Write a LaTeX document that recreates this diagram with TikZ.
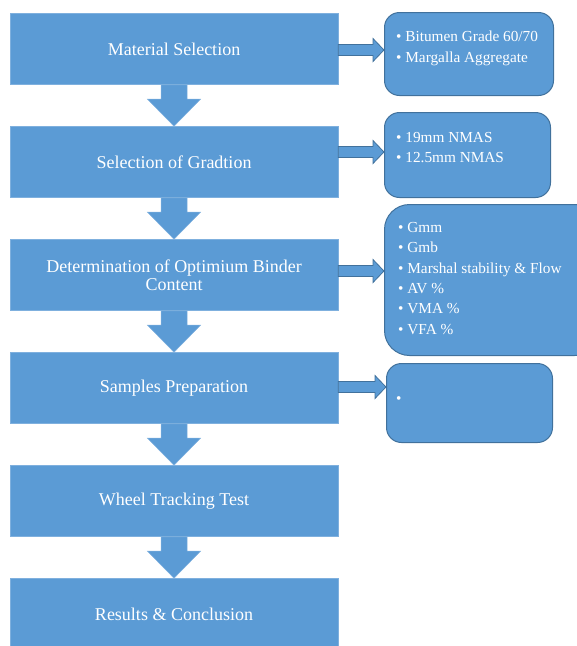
\documentclass[tikz,border=0pt]{standalone}
\usepackage{fontspec}
\setmainfont{Liberation Serif}
\usetikzlibrary{calc,positioning}
\definecolor{officeblue}{HTML}{5B9BD5}
\definecolor{edgeblue}{HTML}{41719C}
\definecolor{rimblue}{HTML}{7FB0DE}

% block arrow pointing down, from one step box to the next
\newcommand{\flowdown}[2]{%
  \path[downarrow] ($(#1.south)+(-13,0)$) -- ($(#2.north)+(-13,-27)$) -- ++(-13.5,0)
    -- (#2.north) -- ++(26.5,-27) -- ++(-13.5,0) -- ($(#1.south)+(13,0)$) -- cycle;}
% block arrow pointing right, at height #3
\newcommand{\flowright}[3]{%
  \path[sidearrow] ($(#1.east |- 0,#3)+(0,-5.5)$) -- ($(#2.west |- 0,#3)+(-11,-5.5)$) -- ++(0,-6)
    -- (#2.west |- 0,#3) -- ++(-11,11.5) -- ++(0,-6) -- ($(#1.east |- 0,#3)+(0,5.5)$) -- cycle;}

\begin{document}
\begin{tikzpicture}[x=1pt,y=-1pt]

    % Styles
    \tikzset{
        mainbox/.style={rectangle, fill=officeblue, draw=rimblue, line width=0.6pt,
            minimum width=328pt, minimum height=71pt, inner sep=0pt,
            text=white, align=center, font=\fontsize{18}{18}\selectfont},
        infobox/.style={rectangle, rounded corners=15pt, fill=officeblue,
            draw=edgeblue, line width=1pt, inner sep=0pt, anchor=north west},
        infotext/.style={text=white, align=left, anchor=north west, inner sep=0pt,
            font=\fontsize{15.3}{20.4}\selectfont},
        downarrow/.style={fill=officeblue, draw=rimblue, line width=0.5pt},
        sidearrow/.style={fill=officeblue, draw=edgeblue, line width=0.8pt}
    }

    \useasboundingbox (0,0) rectangle (577,646);

    % Steps
    \node[mainbox] (s1) at (174,49)  {Material Selection};
    \node[mainbox] (s2) at (174,162) {Selection of Gradtion};
    \node[mainbox] (s3) at (174,275) {Determination of Optimium Binder\\Content};
    \node[mainbox] (s4) at (174,388) {Samples Preparation};
    \node[mainbox] (s5) at (174,501) {Wheel Tracking Test};
    \node[mainbox] (s6) at (174,614) {Results \& Conclusion};

    % Details
    \node[infobox, minimum width=169pt, minimum height=83pt] (i1) at (384,12) {};
    \node[infobox, minimum width=166pt, minimum height=85pt] (i2) at (384,112) {};
    \node[infobox, minimum width=215pt, minimum height=151pt, rounded corners=25pt] (i3) at (384,204) {};
    \node[infobox, minimum width=166pt, minimum height=79pt] (i4) at (386,363) {};

    \node[infotext] (t1) at ($(i1.north west)+(12,19)$)
        {\textbullet\ Bitumen Grade 60/70\\\textbullet\ Margalla Aggregate};
    \node[infotext] (t2) at ($(i2.north west)+(12,20)$)
        {\textbullet\ 19mm NMAS\\\textbullet\ 12.5mm NMAS};
    \node[infotext] (t3) at ($(i3.north west)+(14,18)$)
        {\textbullet\ Gmm\\\textbullet\ Gmb\\\textbullet\ Marshal stability \& Flow\\
         \textbullet\ AV \%\\\textbullet\ VMA \%\\\textbullet\ VFA \%};
    \node[infotext] (t4) at ($(i4.north west)+(10,33)$) {\textbullet};

    % Flow
    \flowdown{s1}{s2}
    \flowdown{s2}{s3}
    \flowdown{s3}{s4}
    \flowdown{s4}{s5}
    \flowdown{s5}{s6}

    \flowright{s1}{i1}{50}
    \flowright{s2}{i2}{152}
    \flowright{s3}{i3}{271}
    \flowright{s4}{i4}{387}

\end{tikzpicture}
\end{document}
